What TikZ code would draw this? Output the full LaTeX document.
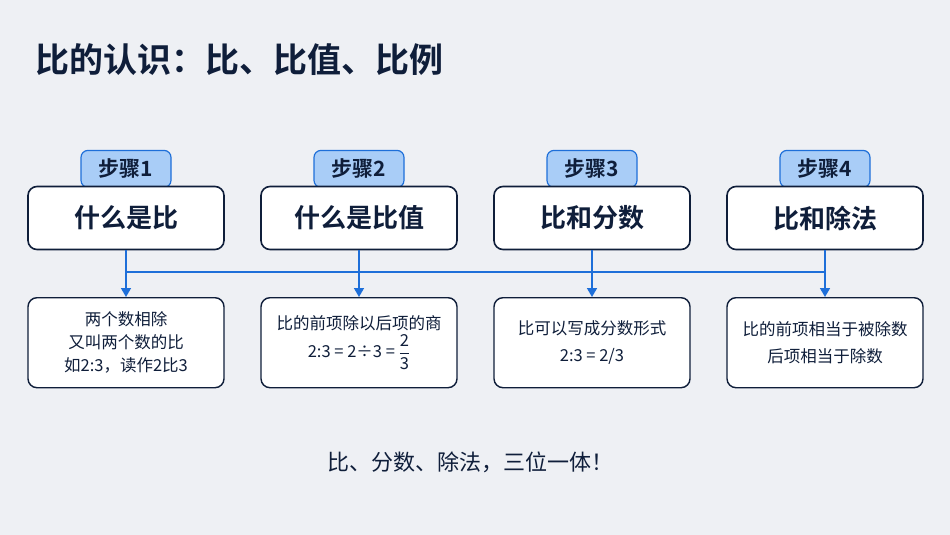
\documentclass[tikz,border=0pt]{standalone}
\usepackage{amsmath}
\usepackage{fontspec}
\setmainfont{Noto Sans CJK SC}
\newfontfamily\cjkbold{Noto Sans CJK SC Bold}
\usepackage{xcolor}
\usetikzlibrary{arrows.meta, positioning}
\definecolor{bgc}{HTML}{EEF0F4}
\definecolor{ink}{HTML}{0F1E3A}
\definecolor{tabc}{HTML}{A9CDF7}
\definecolor{linkc}{HTML}{1E6FD9}

\begin{document}
\begin{tikzpicture}[
    x=1pt, y=-1pt,
    head/.style={
        rectangle,
        draw=ink,
        fill=white,
        line width=1.6pt,
        rounded corners=9pt,
        minimum height=63pt,
        minimum width=196pt,
        align=center,
        font=\fontsize{26}{30}\cjkbold\color{ink}
    },
    tab/.style={
        rectangle,
        draw=linkc,
        fill=tabc,
        line width=1.2pt,
        rounded corners=7pt,
        minimum height=37pt,
        minimum width=90pt,
        anchor=south,
        font=\fontsize{21}{24}\cjkbold\color{ink}
    },
    body/.style={
        rectangle,
        draw=ink,
        fill=white,
        line width=1.4pt,
        rounded corners=9pt,
        minimum height=90pt,
        minimum width=196pt,
        align=center,
        anchor=north,
        font=\fontsize{16.5}{23}\selectfont\color{ink}
    },
    link/.style={draw=linkc, line width=1.6pt},
    tip/.style={link, -{Triangle[length=9pt, width=10pt]}}
]
  \fill[bgc] (0,0) rectangle (950,535);
  \useasboundingbox (0,0) rectangle (950,535);

  \node[anchor=west, font=\fontsize{34}{38}\cjkbold\color{ink}] (title) at (32,60) {比的认识：比、比值、比例};

  % upper row: step tabs sit on the heads
  \node[tab] (tab1) at (126,188) {步骤1};
  \node[tab] (tab2) at (359,188) {步骤2};
  \node[tab] (tab3) at (592,188) {步骤3};
  \node[tab] (tab4) at (825,188) {步骤4};
  \node[head] (what) at (126,218) {什么是比};
  \node[head] (value) at (359,218) {什么是比值};
  \node[head] (frac) at (592,218) {比和分数};
  \node[head] (divide) at (825,218) {比和除法};

  % lower row
  \node[body] (def) at (126,297) {两个数相除\\又叫两个数的比\\如2:3，读作2比3};
  \node[body] (quot) at (359,297) {比的前项除以后项的商\\[2pt]2:3 = 2÷3 = $\dfrac{\text{2}}{\text{3}}$};
  \node[body] (form) at (592,297) {比可以写成分数形式\\[4pt]2:3 = 2/3};
  \node[body] (part) at (825,297) {比的前项相当于被除数\\[4pt]后项相当于除数};

  \node[font=\fontsize{22}{26}\selectfont\color{ink}] (motto) at (470,462) {比、分数、除法，三位一体！};

  \coordinate (j1) at (126,272);
  \coordinate (j2) at (359,272);
  \coordinate (j3) at (592,272);
  \coordinate (j4) at (825,272);
  \draw[link] (j1) -- (j4);
  \draw[tip] (what) -- (j1) -- (def);
  \draw[tip] (value) -- (j2) -- (quot);
  \draw[tip] (frac) -- (j3) -- (form);
  \draw[tip] (divide) -- (j4) -- (part);
\end{tikzpicture}
\end{document}
